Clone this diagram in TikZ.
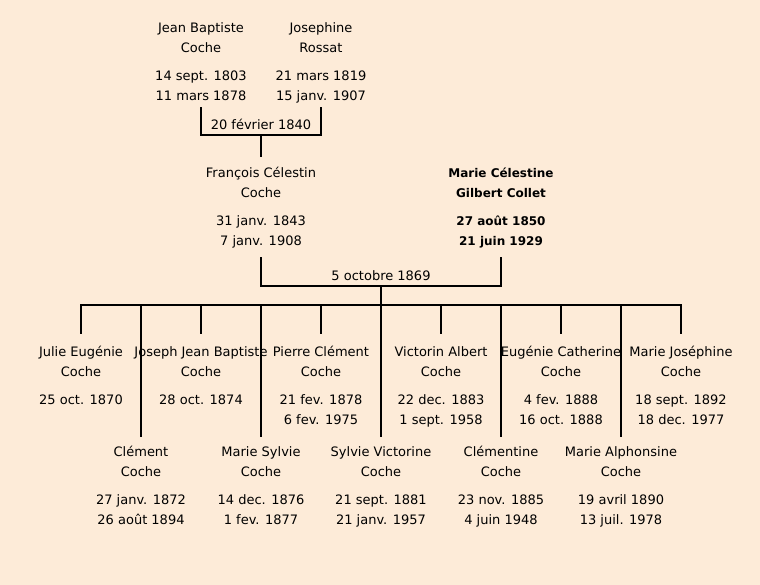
\documentclass[tikz,border=0pt]{standalone}
\usepackage{fontspec}
\setmainfont{DejaVu Sans}
\definecolor{bg}{HTML}{FDEBD8}
\tikzset{
  person/.style={anchor=north, align=center, inner sep=0pt, font=\fontsize{13}{20}\selectfont},
  boldperson/.style={person, font=\fontsize{12}{20}\selectfont\bfseries},
  mlabel/.style={anchor=base, inner sep=0pt, font=\fontsize{13}{20}\selectfont},
  link/.style={line width=2pt, line cap=rect},
}
\newcommand{\fl}{\rule{0pt}{14pt}}
\begin{document}
\begin{tikzpicture}[x=1pt,y=-1pt]
\fill[bg] (0,0) rectangle (760,585);
\useasboundingbox (0,0) rectangle (760,585);

% coordinates of the brackets
\coordinate (jbT) at (201,108);
\coordinate (jrT) at (321,108);
\coordinate (m1)  at (261,135);
\coordinate (fcT) at (261,156);
\coordinate (fcB) at (261,258);
\coordinate (mcB) at (501,258);
\coordinate (m2)  at (381,286);
\coordinate (bar) at (381,305);
\coordinate (barL) at (81,305);
\coordinate (barR) at (681,305);

% persons
\node[person] (jb) at (201,18.5) {\fl Jean Baptiste\\Coche\\[8pt]14 sept. 1803\\11 mars 1878};
\node[person] (jr) at (321,18.5) {\fl Josephine\\Rossat\\[8pt]21 mars 1819\\15 janv. 1907};
\node[mlabel] (w1) at (261,130) {20 février 1840};

\node[person] (fc) at (261,163.3) {\fl François Célestin\\Coche\\[8pt]31 janv. 1843\\7 janv. 1908};
\node[boldperson] (mc) at (501,163.3) {\fl Marie Célestine\\Gilbert Collet\\[8pt]27 août 1850\\21 juin 1929};
\node[mlabel] (w2) at (381,280) {5 octobre 1869};

% children, upper row
\node[person] (c1) at (81,342.7)  {\fl Julie Eugénie\\Coche\\[8pt]25 oct. 1870};
\node[person] (c3) at (201,342.7) {\fl Joseph Jean Baptiste\\Coche\\[8pt]28 oct. 1874};
\node[person] (c5) at (321,342.7) {\fl Pierre Clément\\Coche\\[8pt]21 fev. 1878\\6 fev. 1975};
\node[person] (c7) at (441,342.7) {\fl Victorin Albert\\Coche\\[8pt]22 dec. 1883\\1 sept. 1958};
\node[person] (c9) at (561,342.7) {\fl Eugénie Catherine\\Coche\\[8pt]4 fev. 1888\\16 oct. 1888};
\node[person] (c11) at (681,342.7) {\fl Marie Joséphine\\Coche\\[8pt]18 sept. 1892\\18 dec. 1977};

% children, lower row
\node[person] (c2) at (141,442.7)  {\fl Clément\\Coche\\[8pt]27 janv. 1872\\26 août 1894};
\node[person] (c4) at (261,442.7)  {\fl Marie Sylvie\\Coche\\[8pt]14 dec. 1876\\1 fev. 1877};
\node[person] (c6) at (381,442.7)  {\fl Sylvie Victorine\\Coche\\[8pt]21 sept. 1881\\21 janv. 1957};
\node[person] (c8) at (501,442.7)  {\fl Clémentine\\Coche\\[8pt]23 nov. 1885\\4 juin 1948};
\node[person] (c10) at (621,442.7) {\fl Marie Alphonsine\\Coche\\[8pt]19 avril 1890\\13 juil. 1978};

% connectors
\draw[link] (jbT) |- (m1) -| (jrT);
\draw[link] (m1) -- (fcT);
\draw[link] (fcB) |- (m2) -| (mcB);
\draw[link] (m2) -- (bar);
\draw[link] (barL) -- (barR);
\foreach \c in {c1,c3,c5,c7,c9,c11}{
  \draw[link] (\c.north |- barL) -- ++(0,28);
}
\foreach \c in {c2,c4,c6,c8,c10}{
  \draw[link] (\c.north |- barL) -- ++(0,131);
}
\end{tikzpicture}
\end{document}
